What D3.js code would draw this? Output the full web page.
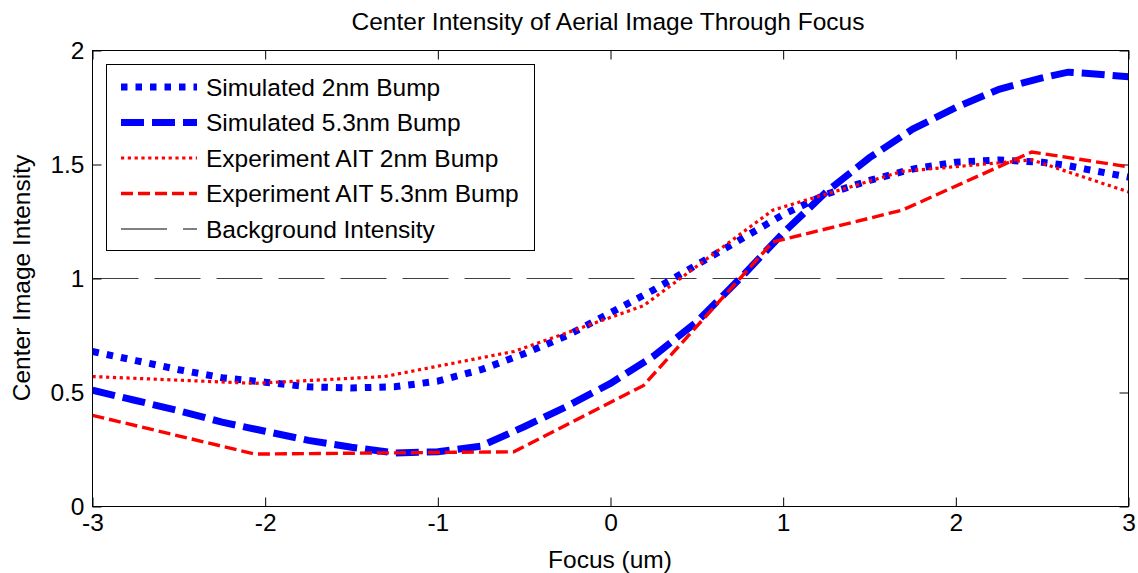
<!DOCTYPE html>
<html>
<head>
<meta charset="utf-8">
<script src="https://cdn.jsdelivr.net/npm/d3@7"></script>
<style>
  body { margin: 0; background: #fff; }
  svg { display: block; }
  text { font-family: "Liberation Sans", Arial, sans-serif; fill: #000; }
</style>
</head>
<body>
<svg id="chart" width="1138" height="573"></svg>
<script>
// focus positions (um) for the simulated curves
var simFocus = [-3, -2.75, -2.5, -2.25, -2, -1.75, -1.5, -1.25, -1, -0.75, -0.5, -0.25, 0,
                0.25, 0.5, 0.75, 1, 1.25, 1.5, 1.75, 2, 2.25, 2.5, 2.65, 2.75, 3];
var sim2nm = [0.68, 0.64, 0.60, 0.565, 0.545, 0.525, 0.52, 0.525, 0.55, 0.60, 0.67, 0.75, 0.85,
              0.95, 1.06, 1.17, 1.28, 1.37, 1.43, 1.48, 1.51, 1.52, 1.51, 1.495, 1.48, 1.445];
var sim53nm = [0.51, 0.465, 0.42, 0.37, 0.33, 0.29, 0.26, 0.235, 0.24, 0.265, 0.35, 0.44, 0.54,
               0.66, 0.81, 1.0, 1.2, 1.38, 1.53, 1.655, 1.75, 1.83, 1.88, 1.905, 1.9, 1.885];
// focus positions (um) of the AIT measurements
var expFocus = [-3, -2.06, -1.31, -0.56, 0.19, 0.94, 1.69, 2.44, 3];
var exp2nm = [0.57, 0.54, 0.57, 0.68, 0.88, 1.30, 1.47, 1.52, 1.38];
var exp53nm = [0.40, 0.23, 0.235, 0.24, 0.53, 1.16, 1.30, 1.555, 1.49];
var backgroundLevel = [1, 1];
var backgroundFocus = [-3, 3];

var xTicks = [-3, -2, -1, 0, 1, 2, 3];
var yTicks = [0, 0.5, 1, 1.5, 2];

var seriesNames = ["Simulated 2nm Bump", "Simulated 5.3nm Bump", "Experiment AIT 2nm Bump",
                   "Experiment AIT 5.3nm Bump", "Background Intensity"];

var margin = { left: 92.5, top: 50.5, right: 1128.5, bottom: 506.5 };
var fontSize = "24.5px";
var svg = d3.select("#chart");

var x = d3.scaleLinear().domain([-3, 3]).range([margin.left, margin.right]);
var y = d3.scaleLinear().domain([0, 2]).range([margin.bottom, margin.top]);

var styles = [
    { color: "#0000ff", width: 7, dash: "6.5,8" },
    { color: "#0000ff", width: 7, dash: "23,8" },
    { color: "#ff0000", width: 3.2, dash: "3.2,3.6" },
    { color: "#ff0000", width: 3.4, dash: "12,5" },
    { color: "#000000", width: 1, dash: "46,16" }
];

function toPoints(xs, ys) {
    return xs.map(function (d, i) { return [d, ys[i]]; });
}
var series = [
    toPoints(simFocus, sim2nm),
    toPoints(simFocus, sim53nm),
    toPoints(expFocus, exp2nm),
    toPoints(expFocus, exp53nm),
    toPoints(backgroundFocus, backgroundLevel)
];

function plain(d) { return String(d); }

// title and axis labels
svg.append("text").attr("x", 608).attr("y", 30).attr("text-anchor", "middle")
    .style("font-size", fontSize).text("Center Intensity of Aerial Image Through Focus");
svg.append("text").attr("x", 610).attr("y", 568).attr("text-anchor", "middle")
    .style("font-size", fontSize).text("Focus (um)");
svg.append("text").attr("transform", "translate(30,278) rotate(-90)").attr("text-anchor", "middle")
    .style("font-size", fontSize).text("Center Image Intensity");

// axes with inward ticks
var gx = svg.append("g").attr("transform", "translate(0," + margin.bottom + ")")
    .call(d3.axisBottom(x).tickValues(xTicks).tickSizeInner(-9).tickSizeOuter(0).tickFormat(plain));
var gy = svg.append("g").attr("transform", "translate(" + margin.left + ",0)")
    .call(d3.axisLeft(y).tickValues(yTicks).tickSizeInner(-9).tickSizeOuter(0).tickPadding(8).tickFormat(plain));
var gx2 = svg.append("g").attr("transform", "translate(0," + margin.top + ")")
    .call(d3.axisTop(x).tickValues(xTicks).tickSizeInner(-9).tickSizeOuter(0).tickFormat(""));
var gy2 = svg.append("g").attr("transform", "translate(" + margin.right + ",0)")
    .call(d3.axisRight(y).tickValues(yTicks).tickSizeInner(-9).tickSizeOuter(0).tickFormat(""));
[gx, gy, gx2, gy2].forEach(function (g) {
    g.select(".domain").remove();
    g.selectAll(".tick line").attr("stroke", "#000");
    g.selectAll(".tick text").style("font-size", fontSize).attr("font-family", null);
});
gx.selectAll(".tick text").attr("dy", "0.35em").attr("y", 16);

var line = d3.line().x(function (d) { return x(d[0]); }).y(function (d) { return y(d[1]); });

svg.append("clipPath").attr("id", "plotclip").append("rect")
    .attr("x", margin.left).attr("y", margin.top)
    .attr("width", margin.right - margin.left).attr("height", margin.bottom - margin.top);

var plot = svg.append("g").attr("clip-path", "url(#plotclip)");
// background first, then the curves
[4, 0, 1, 2, 3].forEach(function (i) {
    plot.append("path").datum(series[i]).attr("d", line)
        .attr("fill", "none").attr("stroke", styles[i].color)
        .attr("stroke-width", styles[i].width).attr("stroke-dasharray", styles[i].dash)
        .attr("stroke-opacity", i == 4 ? 0.75 : 1);
});

svg.append("rect").attr("x", margin.left).attr("y", margin.top)
    .attr("width", margin.right - margin.left).attr("height", margin.bottom - margin.top)
    .attr("fill", "none").attr("stroke", "#000").attr("stroke-width", 1);

// legend
var legend = svg.append("g");
legend.append("rect").attr("x", 106.5).attr("y", 64.5).attr("width", 428).attr("height", 186)
    .attr("fill", "#fff").attr("stroke", "#000").attr("stroke-width", 1);
seriesNames.forEach(function (name, i) {
    var ly = 87 + i * 35.5;
    legend.append("line").attr("x1", 121).attr("x2", 197).attr("y1", ly).attr("y2", ly)
        .attr("stroke", styles[i].color).attr("stroke-width", styles[i].width)
        .attr("stroke-dasharray", styles[i].dash);
    legend.append("text").attr("x", 206).attr("y", ly).attr("dy", "0.35em")
        .style("font-size", fontSize).text(name);
});
</script>
</body>
</html>
